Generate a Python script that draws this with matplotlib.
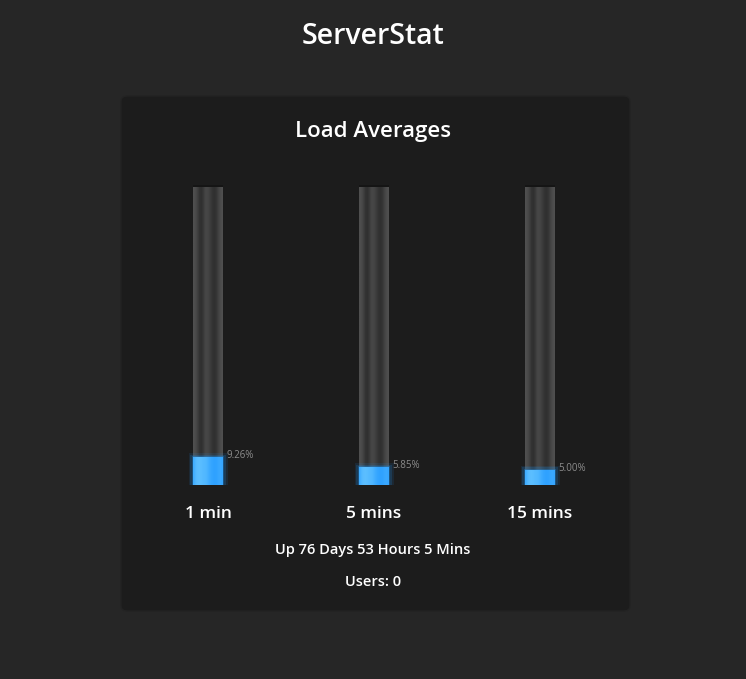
import matplotlib
matplotlib.use("Agg")
import matplotlib.pyplot as plt
from matplotlib.patches import FancyBboxPatch
import numpy as np

# ── Data ──────────────────────────────────────────────────────────────────────
periods = ["1 min", "5 mins", "15 mins"]
load_pct = [9.26, 5.85, 5.00]
uptime_text = "Up 76 Days 53 Hours 5 Mins"
users_text = "Users: 0"

# ── Style ─────────────────────────────────────────────────────────────────────
BG = "#262626"
PANEL = "#1c1c1c"
FONT = "Open Sans"
W, H = 746, 679

plt.rcParams["font.family"] = [FONT, "DejaVu Sans"]

fig = plt.figure(figsize=(W / 100, H / 100), dpi=100, facecolor=BG)


def fx(px):
    return px / W


def fy(py):
    return 1 - py / H


# panel (drawn under the axes)
panel = FancyBboxPatch((fx(121), fy(611)), fx(630) - fx(121), fy(96) - fy(611),
                       boxstyle="round,pad=0,rounding_size=0.008",
                       transform=fig.transFigure, facecolor=PANEL,
                       edgecolor="#232323", linewidth=1.0, zorder=-1)
fig.patches.append(panel)

fig.text(0.5, fy(37), "ServerStat", ha="center", va="center",
         color="white", fontsize=20.5, fontweight="semibold")
fig.text(0.5, fy(132), "Load Averages", ha="center", va="center",
         color="white", fontsize=16, fontweight="semibold")

# bar axes: tube spans y 185..485 px, centers at 208/374/540 px
ax = fig.add_axes([fx(121), fy(485), fx(630) - fx(121), fy(185) - fy(485)])
ax.set_facecolor("none")
ax.set_zorder(2)
step = 166.0
bw = 30 / step
x = np.arange(len(periods))

# tube horizontal shading (cylinder look)
tube_profile = np.array([0.31, 0.29, 0.25, 0.20, 0.19, 0.22, 0.27, 0.28,
                         0.26, 0.23, 0.20, 0.19, 0.21, 0.25, 0.29, 0.31])
tube_img = np.tile(tube_profile, (2, 1))
# blue fill: lighter on the left, deeper on the right
fill_light = np.array([0.55, 0.80, 0.90, 0.92, 0.88, 0.82, 0.78, 0.70,
                       0.55, 0.42, 0.35, 0.30, 0.32, 0.40, 0.45, 0.40])

for xi, v in zip(x, load_pct):
    ax.imshow(tube_img, extent=(xi - bw / 2, xi + bw / 2, 0, 100),
              aspect="auto", cmap="gray", vmin=0, vmax=1,
              interpolation="bilinear", zorder=2)
    # dark top rim
    ax.bar(xi, 0.7, bottom=99.3, width=bw, color="#151515", zorder=3)
    # glow
    for k, a in [(1.3, 0.10), (1.18, 0.16), (1.08, 0.25)]:
        pad = (k - 1) * bw / 2 * step / 3.0
        ax.bar(xi, v + 2 * pad, bottom=-pad, width=bw * k,
               color="#1e9bff", alpha=a, linewidth=0, zorder=3)
    # blue fill with horizontal shading
    blue = np.zeros((2, len(fill_light), 3))
    blue[..., 0] = 0.10 + 0.28 * fill_light
    blue[..., 1] = 0.58 + 0.18 * fill_light
    blue[..., 2] = 1.0
    ax.imshow(np.clip(blue, 0, 1), extent=(xi - bw / 2, xi + bw / 2, 0, v),
              aspect="auto", interpolation="bilinear", zorder=4)
    ax.text(xi + bw / 2 + 0.02, v + 0.5, f"{v:.2f}%", ha="left", va="center",
            color="#8c8c8c", fontsize=7, zorder=5)

ax.set_xlim(-(208 - 121) / step, (630 - 208) / step)
ax.set_ylim(0, 100)
ax.axis("off")

for xi, lab in zip(x, periods):
    ax.text(xi, -9.6, lab, ha="center", va="center", color="white",
            fontsize=12.5, fontweight="semibold", clip_on=False)

fig.text(0.5, fy(550), uptime_text, ha="center", va="center",
         color="white", fontsize=10.5, fontweight="semibold")
fig.text(0.5, fy(582), users_text, ha="center", va="center",
         color="white", fontsize=10.5, fontweight="semibold")

fig.savefig("out.png", dpi=100, facecolor=BG)
